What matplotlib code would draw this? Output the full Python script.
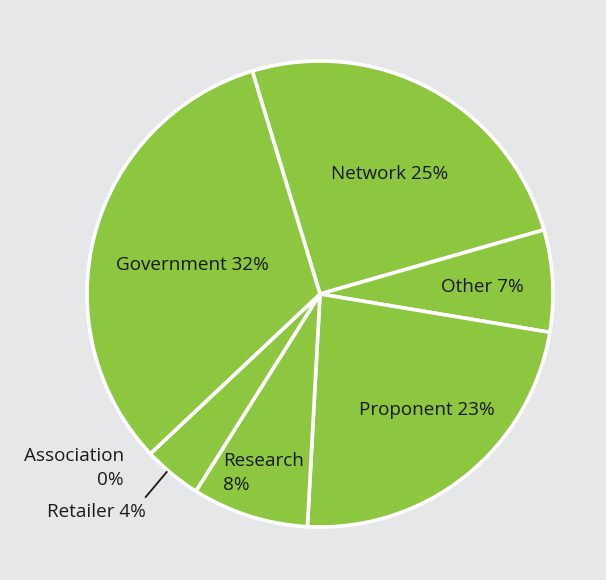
import matplotlib
matplotlib.use("Agg")
import matplotlib.pyplot as plt

# Share of respondents by organisation type
categories = ["Network", "Other", "Proponent", "Research", "Retailer", "Association", "Government"]
shares = [25, 7, 23, 8, 4, 0, 32]

GREEN = "#8dc63f"
BG = "#e6e7e8"
W, H = 606, 580

plt.rcParams["font.family"] = ["Open Sans", "DejaVu Sans"]

fig = plt.figure(figsize=(W / 100, H / 100), dpi=100, facecolor=BG)
ax = fig.add_axes([0, 0, 1, 1])
ax.set_facecolor(BG)

cx, cy, r = 320, H - 294, 233
ax.pie(shares, startangle=106.9, counterclock=False, center=(cx, cy), radius=r,
       colors=[GREEN] * len(shares),
       wedgeprops=dict(edgecolor="white", linewidth=2.6))

ax.set_xlim(0, W)
ax.set_ylim(0, H)
ax.set_aspect("equal")
ax.axis("off")

fs = 13.6
lab = {c: f"{c} {v}%" for c, v in zip(categories, shares)}

def put(x, y, s, ha="center", **kw):
    ax.text(x, H - y, s, ha=ha, va="center", fontsize=fs, color="#1a1a1a", **kw)

put(390, 174, lab["Network"])
put(482, 287, lab["Other"])
put(427, 410, lab["Proponent"])
put(223, 473, "Research\n{}%".format(shares[3]), ha="left", linespacing=1.5)
put(192, 265, lab["Government"])
put(124, 468, "Association\n{}%".format(shares[5]), ha="right", multialignment="right",
    linespacing=1.45)
put(146, 512, lab["Retailer"], ha="right")

# leader line for the small retailer slice
ax.plot([145.7, 166.7], [H - 497, H - 472], color="#1a1a1a", lw=1.3)

fig.savefig("out.png", dpi=100, facecolor=BG)
